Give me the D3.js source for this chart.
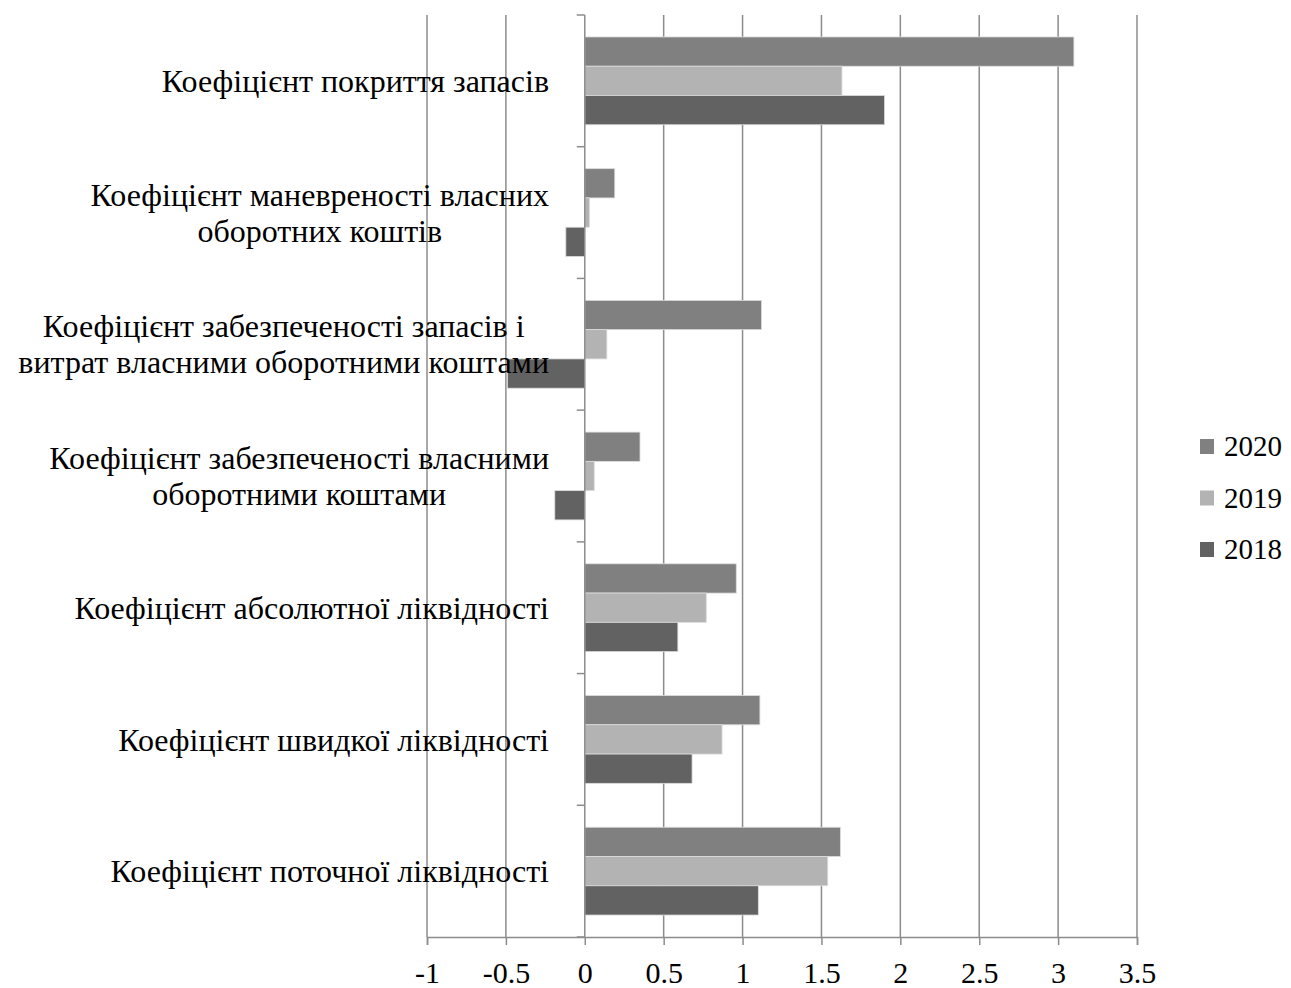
<!DOCTYPE html>
<html>
<head>
<meta charset="utf-8">
<script src="https://cdn.jsdelivr.net/npm/d3@7"></script>
<style>
  html, body { margin: 0; padding: 0; background: #fff; }
  svg { display: block; }
  svg text { font-family: "Liberation Serif", "Times New Roman", serif; }
</style>
</head>
<body>
<svg id="chart" width="1291" height="988"></svg>
<script>
// Indicator names, top to bottom (each entry = lines of the label)
const categories = [
  ["Коефіцієнт покриття запасів"],
  ["Коефіцієнт маневреності власних", "оборотних коштів"],
  ["Коефіцієнт забезпеченості запасів і", "витрат власними оборотними коштами"],
  ["Коефіцієнт забезпеченості власними", "оборотними коштами"],
  ["Коефіцієнт абсолютної ліквідності"],
  ["Коефіцієнт швидкої ліквідності"],
  ["Коефіцієнт поточної ліквідності"]
];
const years = ["2020", "2019", "2018"];
const values2020 = [3.10, 0.19, 1.12, 0.35, 0.96, 1.11, 1.62];
const values2019 = [1.63, 0.03, 0.14, 0.06, 0.77, 0.87, 1.54];
const values2018 = [1.90, -0.12, -0.49, -0.19, 0.59, 0.68, 1.10];
const xTicks = [-1, -0.5, 0, 0.5, 1, 1.5, 2, 2.5, 3, 3.5];
const colors = { "2020": "#808080", "2019": "#b3b3b3", "2018": "#626262" };

const seriesByYear = { "2020": values2020, "2019": values2019, "2018": values2018 };
const keys = categories.map((c, i) => i);
const serif = "'Liberation Serif', 'Times New Roman', serif";

const svg = d3.select("#chart");
const plotLeft = 427, plotRight = 1137, plotTop = 15, plotBottom = 937;
const gridColor = "#8c8c8c";

const x = d3.scaleLinear().domain([-1, 3.5]).range([plotLeft, plotRight]);
const y = d3.scaleBand().domain(keys).range([plotTop, plotBottom]).padding(0);
const ySub = d3.scaleBand().domain(years).range([0, y.bandwidth()])
  .paddingInner(0).paddingOuter(0.75);

// Vertical gridlines
svg.append("g")
  .selectAll("line")
  .data(xTicks.filter(t => t !== 0))
  .join("line")
  .attr("x1", d => x(d)).attr("x2", d => x(d))
  .attr("y1", plotTop).attr("y2", plotBottom)
  .attr("stroke", gridColor).attr("stroke-width", 1.5);

// Bars: one group per indicator, one bar per year
const groups = svg.append("g")
  .selectAll("g")
  .data(keys)
  .join("g")
  .attr("transform", d => `translate(0,${y(d)})`);

groups.selectAll("rect")
  .data(i => years.map(yr => ({ yr, v: seriesByYear[yr][i] })))
  .join("rect")
  .attr("x", d => x(Math.min(0, d.v)))
  .attr("width", d => Math.abs(x(d.v) - x(0)))
  .attr("y", d => ySub(d.yr))
  .attr("height", ySub.bandwidth())
  .attr("fill", d => colors[d.yr])
  .attr("stroke", "#dcdcdc").attr("stroke-width", 0.8);

// Category axis along zero, ticks on band boundaries
const zx = x(0);
svg.append("line")
  .attr("x1", zx).attr("x2", zx).attr("y1", plotTop).attr("y2", plotBottom)
  .attr("stroke", gridColor).attr("stroke-width", 1.5);
svg.append("g")
  .selectAll("line")
  .data(keys.concat([keys.length]))
  .join("line")
  .attr("x1", zx - 8).attr("x2", zx)
  .attr("y1", d => d < keys.length ? y(d) : plotBottom)
  .attr("y2", d => d < keys.length ? y(d) : plotBottom)
  .attr("stroke", gridColor).attr("stroke-width", 1.5);

// Value axis
const xAxis = d3.axisBottom(x).tickValues(xTicks).tickSize(8).tickPadding(17)
  .tickFormat(d => String(d));
const gx = svg.append("g").attr("transform", `translate(0,${plotBottom})`).call(xAxis);
gx.attr("font-family", null);
gx.select(".domain").attr("stroke", gridColor).attr("stroke-width", 1.5);
gx.selectAll(".tick line").attr("stroke", gridColor).attr("stroke-width", 1.5);
gx.selectAll(".tick text")
  .style("font-family", serif)
  .style("font-size", "30px").attr("fill", "#000");

// Category labels: multi-line labels are centred on each other,
// and the block is right-aligned to the label column
const labelRight = 549, lineH = 36;
svg.append("g")
  .selectAll("text")
  .data(keys)
  .join("text")
  .style("font-family", serif)
  .style("font-size", "32px")
  .attr("fill", "#000")
  .each(function (i) {
    const lines = categories[i];
    const cy = y(i) + y.bandwidth() / 2;
    const t = d3.select(this);
    const spans = lines.map((ln, k) => t.append("tspan")
      .attr("y", cy + (k - (lines.length - 1) / 2) * lineH)
      .attr("dy", "0.35em")
      .text(ln));
    const widest = d3.max(spans, s => s.node().getComputedTextLength());
    const cx = labelRight - widest / 2;
    t.attr("text-anchor", "middle");
    spans.forEach(s => s.attr("x", cx));
  });

// Legend
const legend = svg.append("g")
  .selectAll("g")
  .data(years)
  .join("g")
  .attr("transform", (d, i) => `translate(1200,${446 + i * 51.5})`);
legend.append("rect")
  .attr("x", 0).attr("y", -7).attr("width", 14).attr("height", 15)
  .attr("fill", d => colors[d]);
legend.append("text")
  .attr("x", 24).attr("y", 0).attr("dy", "0.35em")
  .style("font-family", serif)
  .style("font-size", "29px").attr("fill", "#000")
  .text(d => d);
</script>
</body>
</html>
